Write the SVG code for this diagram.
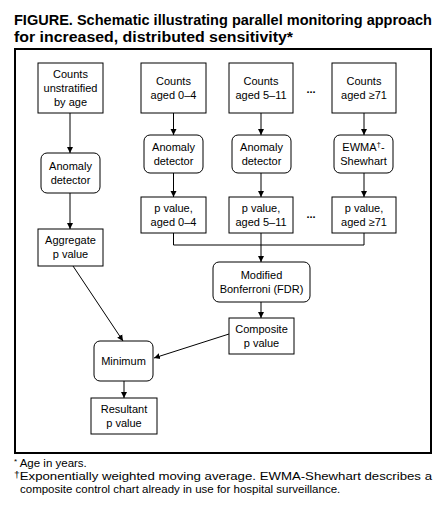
<svg xmlns="http://www.w3.org/2000/svg" width="446" height="512" viewBox="0 0 446 512">
<defs>
<marker id="ah" markerUnits="userSpaceOnUse" markerWidth="6" markerHeight="7" refX="6" refY="3.5" orient="auto">
<path d="M0,0.5 L6,3.5 L0,6.5 z" fill="#000"/>
</marker>
</defs>
<style>
.t{font-family:"Liberation Sans",Arial,sans-serif;font-size:11px;fill:#000;text-anchor:middle}
.title{font-family:"Liberation Sans",Arial,sans-serif;font-size:14.5px;font-weight:bold;fill:#000}
.fn{font-family:"Liberation Sans",Arial,sans-serif;font-size:11.5px;fill:#000}
.box{fill:#fff;stroke:#000;stroke-width:1}
.c{fill:none;stroke:#000;stroke-width:1}
.a{fill:none;stroke:#000;stroke-width:1;marker-end:url(#ah)}
.dots{font-family:"Liberation Sans",Arial,sans-serif;font-size:11px;font-weight:bold;fill:#000;text-anchor:middle}
</style>
<rect width="446" height="512" fill="#fff"/>
<text class="title" x="14" y="25" textLength="418" lengthAdjust="spacingAndGlyphs">FIGURE. Schematic illustrating parallel monitoring approach</text>
<text class="title" x="14" y="42" textLength="279" lengthAdjust="spacingAndGlyphs">for increased, distributed sensitivity*</text>
<rect x="15" y="49" width="416" height="404" fill="none" stroke="#000" stroke-width="2"/>

<g id="connectors">
<line class="a" x1="70" y1="113" x2="70" y2="153"/>
<line class="a" x1="70" y1="193" x2="70" y2="229"/>
<line class="a" x1="173.5" y1="113" x2="173.5" y2="135"/>
<line class="a" x1="173.5" y1="173" x2="173.5" y2="197"/>
<line class="a" x1="261" y1="113" x2="261" y2="135"/>
<line class="a" x1="261" y1="173" x2="261" y2="197"/>
<line class="a" x1="364" y1="113" x2="364" y2="135"/>
<line class="a" x1="364" y1="173" x2="364" y2="197"/>
<polyline class="c" points="173.5,233 173.5,245 364,245 364,233"/>
<line class="a" x1="261" y1="233" x2="261" y2="262"/>
<line class="a" x1="261" y1="302" x2="261" y2="318"/>
<line class="a" x1="73" y1="266" x2="123" y2="341"/>
<line class="a" x1="229" y1="334" x2="154" y2="358"/>
<line class="a" x1="124" y1="381" x2="124" y2="398"/>
</g>

<g id="n_unstrat">
<rect class="box" x="38" y="63" width="65" height="50"/>
<text class="t" x="70.5" y="78">Counts</text>
<text class="t" x="70.5" y="92">unstratified</text>
<text class="t" x="70.5" y="106">by age</text>
</g>
<g id="n_c04">
<rect class="box" x="141" y="63" width="65" height="50"/>
<text class="t" x="173.5" y="85">Counts</text>
<text class="t" x="173.5" y="99">aged 0–4</text>
</g>
<g id="n_c511">
<rect class="box" x="229" y="63" width="64" height="50"/>
<text class="t" x="261" y="85">Counts</text>
<text class="t" x="261" y="99">aged 5–11</text>
</g>
<text class="dots" x="311" y="93">...</text>
<g id="n_c71">
<rect class="box" x="332" y="63" width="64" height="50"/>
<text class="t" x="364" y="85">Counts</text>
<text class="t" x="364" y="99">aged ≥71</text>
</g>

<g id="n_ad1">
<rect class="box" x="41" y="153" width="59" height="40" rx="6"/>
<text class="t" x="70.5" y="170">Anomaly</text>
<text class="t" x="70.5" y="184">detector</text>
</g>
<g id="n_ad2">
<rect class="box" x="144" y="135" width="59" height="38" rx="6"/>
<text class="t" x="173.5" y="151">Anomaly</text>
<text class="t" x="173.5" y="165">detector</text>
</g>
<g id="n_ad3">
<rect class="box" x="232" y="135" width="59" height="38" rx="6"/>
<text class="t" x="261.5" y="151">Anomaly</text>
<text class="t" x="261.5" y="165">detector</text>
</g>
<g id="n_ewma">
<rect class="box" x="334" y="135" width="59" height="38" rx="6"/>
<text class="t" x="363.5" y="151">EWMA<tspan font-size="8" dy="-4">†</tspan><tspan dy="4">-</tspan></text>
<text class="t" x="363.5" y="165">Shewhart</text>
</g>

<g id="n_p04">
<rect class="box" x="141" y="197" width="65" height="36"/>
<text class="t" x="173.5" y="212">p value,</text>
<text class="t" x="173.5" y="226">aged 0–4</text>
</g>
<g id="n_p511">
<rect class="box" x="229" y="197" width="64" height="36"/>
<text class="t" x="261" y="212">p value,</text>
<text class="t" x="261" y="226">aged 5–11</text>
</g>
<text class="dots" x="311" y="218">...</text>
<g id="n_p71">
<rect class="box" x="332" y="197" width="64" height="36"/>
<text class="t" x="364" y="212">p value,</text>
<text class="t" x="364" y="226">aged ≥71</text>
</g>

<g id="n_agg">
<rect class="box" x="38" y="229" width="65" height="37"/>
<text class="t" x="70.5" y="244">Aggregate</text>
<text class="t" x="70.5" y="258">p value</text>
</g>
<g id="n_bonf">
<rect class="box" x="213" y="262" width="97" height="40" rx="6"/>
<text class="t" x="261.5" y="279">Modified</text>
<text class="t" x="261.5" y="293">Bonferroni (FDR)</text>
</g>
<g id="n_comp">
<rect class="box" x="229" y="318" width="65" height="36"/>
<text class="t" x="261.5" y="333">Composite</text>
<text class="t" x="261.5" y="347">p value</text>
</g>
<g id="n_min">
<rect class="box" x="94" y="341" width="59" height="40" rx="6"/>
<text class="t" x="123.5" y="365">Minimum</text>
</g>
<g id="n_res">
<rect class="box" x="91" y="398" width="66" height="36"/>
<text class="t" x="124" y="413">Resultant</text>
<text class="t" x="124" y="427">p value</text>
</g>

<text class="fn" x="14" y="467"><tspan font-size="8" dy="-3">*</tspan><tspan dy="3"> Age in years.</tspan></text>
<text class="fn" x="14" y="480" textLength="418" lengthAdjust="spacingAndGlyphs"><tspan font-size="9" dy="-2">†</tspan><tspan dy="2">Exponentially weighted moving average. EWMA-Shewhart describes a</tspan></text>
<text class="fn" x="20" y="493">composite control chart already in use for hospital surveillance.</text>
</svg>
